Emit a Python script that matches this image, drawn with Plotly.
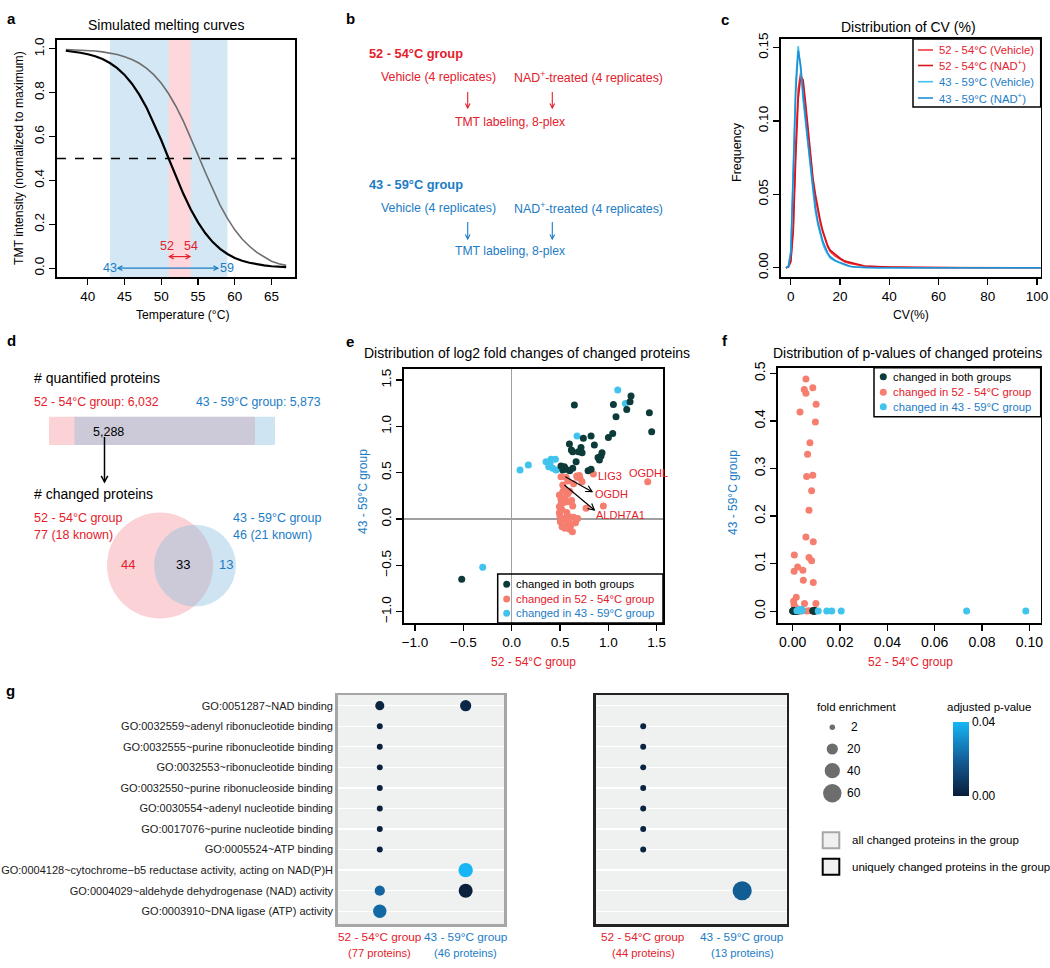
import math
import plotly.graph_objects as go

W, H = 1050, 968
def fx(p): return p / W
def fy(p): return 1 - p / H

FONT = "Liberation Sans, Arial, sans-serif"
RED = "#e4202b"
BLUE = "#1c7cc5"
DARK = "#0d3b3a"
SALMON = "#f67e6f"
CYAN = "#40c3ec"

# ---------------- data ----------------
# (a) simulated melting curves
temperature = list(range(37, 68))
curve_low_tm = [0.991, 0.987, 0.982, 0.975, 0.966, 0.953, 0.935, 0.912, 0.881, 0.841, 0.791,
                0.731, 0.661, 0.583, 0.500, 0.417, 0.339, 0.269, 0.209, 0.159, 0.119, 0.088,
                0.065, 0.047, 0.034, 0.025, 0.018, 0.013, 0.009, 0.007, 0.005]
curve_high_tm = [0.997, 0.996, 0.995, 0.993, 0.990, 0.986, 0.981, 0.974, 0.964, 0.951, 0.934,
                 0.911, 0.881, 0.843, 0.795, 0.737, 0.670, 0.596, 0.516, 0.436, 0.359, 0.288,
                 0.227, 0.175, 0.133, 0.100, 0.072, 0.050, 0.032, 0.020, 0.013]
band_wide = [43, 59]
band_narrow = [51, 54]
temp_ticks = [40, 45, 50, 55, 60, 65]
intensity_ticks = [0.0, 0.2, 0.4, 0.6, 0.8, 1.0]

# (c) CV distribution
cv_x = [-2, -1, 0, 1, 2, 3, 4, 5, 6, 7, 8, 9, 10, 11, 12, 13, 14, 15, 16, 18, 20, 22, 24, 26,
        28, 30, 35, 40, 50, 60, 70, 80, 90, 100, 105]
cv_red_vehicle = [0, 0.0005, 0.005, 0.03, 0.085, 0.122, 0.133, 0.125, 0.108, 0.09, 0.072, 0.058,
                  0.047, 0.038, 0.030, 0.024, 0.019, 0.014, 0.011, 0.008, 0.006, 0.004, 0.003,
                  0.0025, 0.0015, 0.001, 0.0006, 0.0004, 0.0002, 0.0001, 0, 0, 0, 0, 0]
cv_red_nad = [0, 0.0005, 0.004, 0.025, 0.075, 0.115, 0.13, 0.128, 0.112, 0.094, 0.076, 0.061,
              0.05, 0.04, 0.032, 0.025, 0.02, 0.015, 0.012, 0.009, 0.0065, 0.0045, 0.0035,
              0.0028, 0.002, 0.0012, 0.0007, 0.0004, 0.0002, 0.0001, 0, 0, 0, 0, 0]
cv_blue_vehicle = [0, 0.001, 0.012, 0.07, 0.128, 0.151, 0.135, 0.114, 0.097, 0.082, 0.068, 0.052,
                   0.038, 0.029, 0.022, 0.016, 0.012, 0.009, 0.0065, 0.0045, 0.003, 0.0018,
                   0.0008, 0.0004, 0.0002, 0.0001, 0, 0, 0, 0, 0, 0, 0, 0, 0]
cv_blue_nad = [0, 0.0008, 0.01, 0.062, 0.12, 0.148, 0.138, 0.118, 0.1, 0.085, 0.07, 0.055,
               0.041, 0.031, 0.024, 0.018, 0.014, 0.01, 0.0075, 0.005, 0.0035, 0.002, 0.001,
               0.0005, 0.0003, 0.0001, 0, 0, 0, 0, 0, 0, 0, 0, 0]
cv_names = ["52 - 54°C (Vehicle)", "52 - 54°C (NAD<sup>+</sup>)",
            "43 - 59°C (Vehicle)", "43 - 59°C (NAD<sup>+</sup>)"]
cv_ticks_x = [0, 20, 40, 60, 80, 100]
cv_ticks_y = [0.00, 0.05, 0.10, 0.15]

# (d) protein counts
n_quant_52 = 6032
n_quant_43 = 5873
n_quant_both = 5288
n_changed_52 = 77
n_changed_43 = 46
n_known_52 = 18
n_known_43 = 21
n_only_52 = 44
n_shared = 33
n_only_43 = 13

# (e) log2 fold changes
fc_both_x = [1.234, 1.224, 1.19, 0.648, 1.052, 1.079, 1.424, 1.448, 1.045, 1.0, 0.821, 0.855,
             0.741, 0.717, 0.597, 0.617, 0.631, 0.728, 0.666, 0.934, 0.924, 0.907, 0.821, 0.79,
             0.631, 0.510, 0.545, 0.562, 0.528, 0.893, 0.69, 0.60, -0.517]
fc_both_y = [1.327, 1.266, 1.183, 1.23, 1.237, 1.104, 1.147, 0.942, 0.924, 0.881, 0.896, 0.799,
             0.871, 0.773, 0.809, 0.745, 0.727, 0.716, 0.619, 0.716, 0.680, 0.637, 0.536, 0.522,
             0.547, 0.572, 0.565, 0.536, 0.529, 0.665, 0.727, 0.52, -0.651]
fc_52_x = [0.510, 0.562, 0.672, 0.707, 0.728, 0.845, 1.407, 0.528, 0.555, 0.493, 0.579, 0.510,
           0.534, 0.579, 0.493, 0.631, 0.769, 0.948, 0.493, 0.597, 0.545, 0.683, 0.503, 0.572,
           0.521, 0.614, 0.628, 0.55, 0.60, 0.66, 0.64, 0.52, 0.55, 0.60, 0.64, 0.68, 0.58, 0.50,
           0.53, 0.62, 0.57, 0.70, 0.51, 0.59]
fc_52_y = [0.457, 0.450, 0.464, 0.439, 0.403, 0.486, 0.403, 0.367, 0.313, 0.259, 0.270, 0.212,
           0.176, 0.187, 0.133, 0.140, 0.115, 0.140, 0.068, 0.025, 0.007, 0.007, -0.029, -0.047,
           -0.083, -0.065, -0.137, -0.10, -0.11, -0.04, 0.02, 0.10, 0.23, 0.30, 0.38, 0.45, 0.41,
           0.03, 0.30, 0.20, 0.07, 0.47, 0.16, -0.02]
fc_43_x = [1.097, 1.176, 0.676, 0.086, 0.172, 0.355, 0.407, 0.452, 0.383, 0.424, 0.459, 0.397, -0.30]
fc_43_y = [1.392, 1.248, 0.896, 0.529, 0.583, 0.619, 0.644, 0.644, 0.565, 0.547, 0.529, 0.60, -0.52]
fc_labels = ["LIG3", "OGDHL", "OGDH", "ALDH7A1"]
fc_label_x = [0.872, 1.19, 0.838, 0.855]
fc_label_y = [0.464, 0.493, 0.266, 0.043]
fc_arrow_from = [(0.555, 0.457), (0.545, 0.367)]
fc_arrow_to = [(0.831, 0.295), (0.855, 0.097)]
fc_ticks = [-1.0, -0.5, 0.0, 0.5, 1.0, 1.5]

# (f) p-values
p_52_x = [0.0056, 0.0049, 0.0056, 0.0085, 0.0099, 0.0031, 0.0096, 0.0073, 0.0063, 0.0059,
          0.0085, 0.0080, 0.0069, 0.0056, 0.0087, 0.0007, 0.0069, 0.0080, 0.0021, 0.0006,
          0.0043, 0.0045, 0.0087, 0.0015, 0.0004, 0.0006, 0.0050, 0.0098, 0.0010, 0.0030,
          0.0005, 0.0010, 0.0015, 0.0020, 0.0025, 0.0030, 0.0035, 0.0040, 0.0060, 0.0070,
          0.0085, 0.0092, 0.0020, 0.0012]
p_52_y = [0.488, 0.466, 0.458, 0.470, 0.435, 0.419, 0.398, 0.354, 0.330, 0.283, 0.286, 0.253,
          0.212, 0.156, 0.146, 0.118, 0.113, 0.106, 0.093, 0.084, 0.086, 0.065, 0.060, 0.029,
          0.021, 0.013, 0.016, 0.016, 0.008, 0.001, 0.001, 0.002, 0.000, 0.001, 0.003, 0.002,
          0.000, 0.001, 0.000, 0.001, 0.000, 0.002, 0.005, 0.004]
p_both_x = [0.0000, 0.0002, 0.0003, 0.0004, 0.0005, 0.0006, 0.0007, 0.0008, 0.0009, 0.0010,
            0.0011, 0.0012, 0.0013, 0.0014, 0.0015, 0.0016, 0.0018, 0.0020, 0.0022, 0.0024,
            0.0001, 0.0003, 0.0006, 0.0009, 0.0012, 0.0085, 0.0087, 0.0088, 0.0090, 0.0091,
            0.0092, 0.0094, 0.0095]
p_both_y = [0.000, 0.001, 0.000, 0.000, 0.001, 0.000, 0.000, 0.001, 0.000, 0.000, 0.001, 0.000,
            0.000, 0.001, 0.000, 0.000, 0.001, 0.000, 0.000, 0.001, 0.000, 0.000, 0.001, 0.000,
            0.000, 0.001, 0.000, 0.000, 0.001, 0.000, 0.000, 0.001, 0.000]
p_43_x = [0.0018, 0.0022, 0.0024, 0.0028, 0.0032, 0.0038, 0.0040, 0.0108, 0.0144, 0.0165,
          0.0205, 0.0735, 0.0985]
p_43_y = [0.001, 0.002, 0.001, 0.003, 0.002, 0.004, 0.001, 0.000, 0.000, 0.000, 0.000, 0.000, 0.000]
p_ticks_x = [0.00, 0.02, 0.04, 0.06, 0.08, 0.10]
p_ticks_y = [0.0, 0.1, 0.2, 0.3, 0.4, 0.5]

# (g) GO enrichment
go_terms = [
    "GO:0051287~NAD binding",
    "GO:0032559~adenyl ribonucleotide binding",
    "GO:0032555~purine ribonucleotide binding",
    "GO:0032553~ribonucleotide binding",
    "GO:0032550~purine ribonucleoside binding",
    "GO:0030554~adenyl nucleotide binding",
    "GO:0017076~purine nucleotide binding",
    "GO:0005524~ATP binding",
    "GO:0004128~cytochrome−b5 reductase activity, acting on NAD(P)H",
    "GO:0004029~aldehyde dehydrogenase (NAD) activity",
    "GO:0003910~DNA ligase (ATP) activity",
]
all_fe_52 = [12, 3, 3, 3, 3, 3, 3, 3, None, 16, 30]
all_p_52 = [0.002, 0.001, 0.001, 0.001, 0.001, 0.001, 0.001, 0.001, None, 0.021, 0.022]
all_fe_43 = [20, None, None, None, None, None, None, None, 35, 33, None]
all_p_43 = [0.003, None, None, None, None, None, None, None, 0.040, 0.001, None]
uniq_fe_52 = [None, 3, 3, 3, 3, 3, 3, 3, None, None, None]
uniq_p_52 = [None, 0.002, 0.002, 0.002, 0.002, 0.002, 0.002, 0.002, None, None, None]
uniq_fe_43 = [None, None, None, None, None, None, None, None, None, 65, None]
uniq_p_43 = [None, None, None, None, None, None, None, None, None, 0.019, None]
fe_legend = [2, 20, 40, 60]
p_range = [0.0, 0.04]
group_names = ["52 - 54°C group", "43 - 59°C group"]

# ---------------- layout geometry (pixels) ----------------
PANEL_A = dict(x=(57, 295), y=(40, 277), xr=(35.8, 68.2), yr=(-0.04, 1.04))
PANEL_C = dict(x=(781, 1040.7), y=(39, 277), xr=(-4, 101.5), yr=(-0.0063, 0.1559))
PANEL_E = dict(x=(404, 663), y=(369, 623), xr=(-1.114, 1.565), yr=(-1.122, 1.619))
PANEL_F = dict(x=(778, 1040.7), y=(367.7, 623), xr=(-0.0062, 0.1048), yr=(-0.025, 0.512))


def to_px(panel, xv, yv):
    (x0, x1), (y0, y1) = panel["x"], panel["y"]
    (r0, r1), (s0, s1) = panel["xr"], panel["yr"]
    return (x0 + (xv - r0) / (r1 - r0) * (x1 - x0), y1 - (yv - s0) / (s1 - s0) * (y1 - y0))


# ---------------- figure ----------------
fig = go.Figure()
shapes, ann = [], []


def T(x, y, s, size=12.5, color="black", xa="center", ya="middle", angle=0, bold=False):
    if bold:
        s = f"<b>{s}</b>"
    ann.append(dict(x=fx(x), y=fy(y), xref="paper", yref="paper", text=s, showarrow=False,
                    xanchor=xa, yanchor=ya, textangle=angle,
                    font=dict(family=FONT, size=size, color=color)))


def line_px(x0, y0, x1, y1, color, width=1.2, dash="solid"):
    shapes.append(dict(type="line", xref="paper", yref="paper", x0=fx(x0), x1=fx(x1),
                       y0=fy(y0), y1=fy(y1), line=dict(color=color, width=width, dash=dash)))


def head_px(xt, yt, xf, yf, color, width=1.2, hl=6.0, ang=28):
    d = math.hypot(xt - xf, yt - yf)
    ux, uy = (xt - xf) / d, (yt - yf) / d
    pts = []
    for s in (1, -1):
        a = math.radians(ang) * s
        rx = ux * math.cos(a) - uy * math.sin(a)
        ry = ux * math.sin(a) + uy * math.cos(a)
        pts.append((xt - hl * rx, yt - hl * ry))
    path = (f"M {fx(pts[0][0])},{fy(pts[0][1])} L {fx(xt)},{fy(yt)} "
            f"L {fx(pts[1][0])},{fy(pts[1][1])}")
    shapes.append(dict(type="path", xref="paper", yref="paper", path=path,
                       line=dict(color=color, width=width)))


def arrow_px(x0, y0, x1, y1, color, width=1.2, hl=6.0, both=False):
    line_px(x0, y0, x1, y1, color, width)
    head_px(x1, y1, x0, y0, color, width, hl)
    if both:
        head_px(x0, y0, x1, y1, color, width, hl)


def rect_px(x0, y0, x1, y1, fill="rgba(0,0,0,0)", line="black", lw=1.5, layer="above"):
    shapes.append(dict(type="rect", xref="paper", yref="paper", x0=fx(x0), x1=fx(x1),
                       y0=fy(y1), y1=fy(y0), fillcolor=fill, line=dict(color=line, width=lw),
                       layer=layer))


def circle_px(cx, cy, r, fill, line_w=0):
    shapes.append(dict(type="circle", xref="paper", yref="paper", x0=fx(cx - r), x1=fx(cx + r),
                       y0=fy(cy + r), y1=fy(cy - r), fillcolor=fill, line=dict(width=line_w)))


# ---- panel a ----
shapes.append(dict(type="rect", xref="x", yref="y domain", x0=band_wide[0], x1=band_wide[1], y0=0, y1=1,
                   fillcolor="#d3e7f5", line=dict(width=0), layer="below"))
shapes.append(dict(type="rect", xref="x", yref="y domain", x0=band_narrow[0], x1=band_narrow[1], y0=0, y1=1,
                   fillcolor="#fdd7db", line=dict(width=0), layer="below"))
shapes.append(dict(type="line", xref="x domain", yref="y", x0=0, x1=1, y0=0.5, y1=0.5,
                   line=dict(color="black", width=1.6, dash="dash")))
fig.add_trace(go.Scatter(x=temperature, y=curve_high_tm, mode="lines",
                         line=dict(color="#6e6e6e", width=1.6), xaxis="x", yaxis="y"))
fig.add_trace(go.Scatter(x=temperature, y=curve_low_tm, mode="lines",
                         line=dict(color="black", width=2.2), xaxis="x", yaxis="y"))
for (xs, xe, yv, col) in [(51.1, 53.9, 0.053, RED), (44.1, 57.7, 0.0, BLUE)]:
    p0 = to_px(PANEL_A, xs, yv)
    p1 = to_px(PANEL_A, xe, yv)
    arrow_px(p0[0], p0[1], p1[0], p1[1], col, width=1.2, hl=5, both=True)
for (xv, yv, s, col) in [(50.8, 0.10, "52", RED), (54.1, 0.10, "54", RED),
                         (43.0, 0.0, "43", BLUE), (58.9, 0.0, "59", BLUE)]:
    ann.append(dict(x=xv, y=yv, xref="x", yref="y", text=s, showarrow=False,
                    xanchor="center", yanchor="middle",
                    font=dict(family=FONT, size=12.5, color=col)))
T(165.5, 25, "Simulated melting curves", size=14)
T(183, 315, "Temperature (°C)", size=12.2)
T(19, 158, "TMT intensity (normalized to maximum)", size=12.2, angle=-90)

# ---- panel b ----
for (col, yh, yr, ya0, ya1, yt, head) in [(RED, 53.3, 77.3, 92, 108, 121.7, "52 - 54°C group"),
                                          (BLUE, 184, 208.3, 222, 239, 250.7, "43 - 59°C group")]:
    T(366.7, yh, head, size=12.8, color=col, xa="left", bold=True)
    T(438.8, yr, "Vehicle (4 replicates)", size=12.4, color=col)
    T(588.7, yr, "NAD<sup>+</sup>-treated (4 replicates)", size=12.4, color=col)
    arrow_px(467.7, ya0, 467.7, ya1, col, width=1.1, hl=5)
    arrow_px(552.3, ya0, 552.3, ya1, col, width=1.1, hl=5)
    T(510, yt, "TMT labeling, 8-plex", size=12.2, color=col)

# ---- panel c ----
cv_series = [cv_red_vehicle, cv_red_nad, cv_blue_vehicle, cv_blue_nad]
cv_colors = ["#f0393e", "#d8141c", "#3fc0ee", "#1f8ed5"]
for ys, c in zip(cv_series, cv_colors):
    fig.add_trace(go.Scatter(x=cv_x, y=ys, mode="lines", line=dict(color=c, width=1.6),
                             xaxis="x2", yaxis="y2"))
T(908, 27, "Distribution of CV (%)", size=14)
T(911, 315, "CV(%)", size=12.2)
T(737, 152, "Frequency", size=12.5, angle=-90)
rect_px(913, 39, 1040.7, 107)
for i, (nm, c) in enumerate(zip(cv_names, cv_colors)):
    yy = [50, 65.5, 81.7, 98][i]
    line_px(918, yy, 933, yy, c, width=1.6)
    T(937, yy, nm, size=11.3, color=RED if i < 2 else BLUE, xa="left")

# ---- panel d ----
T(31.7, 377.7, "# quantified proteins", size=14, xa="left")
T(32, 401.7, f"52 - 54°C group: {n_quant_52:,}", size=12.3, color=RED, xa="left")
T(323.3, 401.7, f"43 - 59°C group: {n_quant_43:,}", size=12.3, color=BLUE, xa="right")
bar_x0, bar_scale = 49, 206 / 6032
pink_end = bar_x0 + n_quant_52 * bar_scale
blue_start = pink_end - n_quant_both * bar_scale
blue_end = blue_start + n_quant_43 * bar_scale
rect_px(bar_x0, 416.7, pink_end, 445, fill="#fbd3d7", line="rgba(0,0,0,0)", lw=0)
rect_px(blue_start, 416.7, blue_end, 445, fill="rgba(129,184,221,0.38)", line="rgba(0,0,0,0)", lw=0)
T(108, 431.7, f"{n_quant_both:,}", size=12.5)
arrow_px(104.5, 437, 104.5, 482, "black", width=1.5, hl=7)
T(31.7, 494.3, "# changed proteins", size=14, xa="left")
T(32, 518.3, group_names[0], size=12.5, color=RED, xa="left")
T(32, 535, f"{n_changed_52} ({n_known_52} known)", size=12.5, color=RED, xa="left")
T(231, 518.3, group_names[1], size=12.5, color=BLUE, xa="left")
T(231, 535, f"{n_changed_43} ({n_known_43} known)", size=12.5, color=BLUE, xa="left")
r_pink = 53
r_blue = r_pink * math.sqrt(n_changed_43 / n_changed_52)
circle_px(160, 565.6, r_pink, "#fbd3d7")
circle_px(195, 565.6, r_blue, "rgba(129,184,221,0.38)")
T(127.7, 564.3, str(n_only_52), size=13, color=RED)
T(183.3, 564.3, str(n_shared), size=13, color="black")
T(225.7, 564.3, str(n_only_43), size=13, color=BLUE)

# ---- panel e ----
fig.add_trace(go.Scatter(x=fc_52_x, y=fc_52_y, mode="markers", marker=dict(color=SALMON, size=7),
                         xaxis="x3", yaxis="y3"))
fig.add_trace(go.Scatter(x=fc_43_x, y=fc_43_y, mode="markers", marker=dict(color=CYAN, size=7),
                         xaxis="x3", yaxis="y3"))
fig.add_trace(go.Scatter(x=fc_both_x, y=fc_both_y, mode="markers", marker=dict(color=DARK, size=7),
                         xaxis="x3", yaxis="y3"))
for (a0, a1) in zip(fc_arrow_from, fc_arrow_to):
    p0 = to_px(PANEL_E, *a0)
    p1 = to_px(PANEL_E, *a1)
    arrow_px(p0[0], p0[1], p1[0], p1[1], "black", width=1.2, hl=7)
for s, xv, yv in zip(fc_labels, fc_label_x, fc_label_y):
    ann.append(dict(x=xv, y=yv, xref="x3", yref="y3", text=s, showarrow=False, xanchor="left",
                    yanchor="middle", font=dict(family=FONT, size=11, color=RED)))
T(527, 353, "Distribution of log2 fold changes of changed proteins", size=14)
T(533, 662, group_names[0], size=12, color=RED)
T(363, 492, group_names[1], size=12, color=BLUE, angle=-90)
rect_px(497.7, 574, 663, 623)
leg_txt = ["changed in both groups", "changed in 52 - 54°C group", "changed in 43 - 59°C group"]
leg_col = [DARK, SALMON, CYAN]
leg_tcol = ["black", RED, BLUE]
for i in range(3):
    yy = [584.3, 599, 613.3][i]
    circle_px(506.7, yy, 3.5, leg_col[i])
    T(514, yy, leg_txt[i], size=11.3, color=leg_tcol[i], xa="left")

# ---- panel f ----
fig.add_trace(go.Scatter(x=p_52_x, y=p_52_y, mode="markers", marker=dict(color=SALMON, size=7),
                         xaxis="x4", yaxis="y4"))
fig.add_trace(go.Scatter(x=p_both_x, y=p_both_y, mode="markers", marker=dict(color=DARK, size=7),
                         xaxis="x4", yaxis="y4"))
fig.add_trace(go.Scatter(x=p_43_x, y=p_43_y, mode="markers", marker=dict(color=CYAN, size=7),
                         xaxis="x4", yaxis="y4"))
T(907, 353, "Distribution of p-values of changed proteins", size=14)
T(910, 662, group_names[0], size=12, color=RED)
T(733, 493, group_names[1], size=12, color=BLUE, angle=-90)
rect_px(874, 367.7, 1040.7, 416.7)
for i in range(3):
    yy = [376.7, 392.3, 406.7][i]
    circle_px(883.3, yy, 3.5, leg_col[i])
    T(890.7, yy, leg_txt[i], size=11.3, color=leg_tcol[i], xa="left")

# ---- panel g ----
def dia(fe):
    return math.sqrt(19.3 + 5.34 * fe)

rows = list(range(1, len(go_terms) + 1))
for (fe_list, p_list, col, xa, ya) in [(all_fe_52, all_p_52, 1, "x5", "y5"),
                                       (all_fe_43, all_p_43, 2, "x5", "y5"),
                                       (uniq_fe_52, uniq_p_52, 1, "x6", "y6"),
                                       (uniq_fe_43, uniq_p_43, 2, "x6", "y6")]:
    ys = [r for r, f in zip(rows, fe_list) if f is not None]
    ss = [dia(f) for f in fe_list if f is not None]
    cs = [p for p in p_list if p is not None]
    fig.add_trace(go.Scatter(x=[col] * len(ys), y=ys, mode="markers", xaxis=xa, yaxis=ya,
                             marker=dict(size=ss, color=cs, coloraxis="coloraxis", line=dict(width=0),
                                         opacity=1)))
for xa, ya in [("x5", "y5"), ("x6", "y6")]:
    shapes.append(dict(type="rect", xref=f"{xa} domain", yref=f"{ya} domain", x0=0, x1=1, y0=0, y1=1,
                       fillcolor="#eff1f1", line=dict(width=0), layer="below"))
for xa, counts in [("x5", [n_changed_52, n_changed_43]), ("x6", [n_only_52, n_only_43])]:
    for j in range(2):
        col = RED if j == 0 else BLUE
        ann.append(dict(x=j + 1, y=fy(936.5), xref=xa, yref="paper", text=group_names[j],
                        showarrow=False, xanchor="center", yanchor="middle",
                        font=dict(family=FONT, size=11.8, color=col)))
        ann.append(dict(x=j + 1, y=fy(952.5), xref=xa, yref="paper", text=f"({counts[j]} proteins)",
                        showarrow=False, xanchor="center", yanchor="middle",
                        font=dict(family=FONT, size=11.2, color=col)))
T(856.7, 706.7, "fold enrichment", size=11.5)
for fe, yy in zip(fe_legend, [727.3, 749, 770.7, 793.3]):
    circle_px(832.3, yy, dia(fe) / 2, "#6d6d6d")
    T(854.3, yy, str(fe), size=12)
T(989.3, 706.7, "adjusted p-value", size=11.5)
rect_px(822.7, 832.3, 839.3, 848.3, fill="#eff1f1", line="#a6a6a6", lw=2)
rect_px(822.7, 858.7, 839.3, 874.7, fill="#eff1f1", line="black", lw=2)
T(850, 840.3, "all changed proteins in the group", size=11.5, xa="left")
T(850, 866.7, "uniquely changed proteins in the group", size=11.5, xa="left")

# panel letters
for s, x, y in [("a", 11.7, 18.3), ("b", 350.7, 18.3), ("c", 725, 19.3), ("d", 11.7, 340),
                ("e", 350, 341), ("f", 725, 340), ("g", 10, 690.7)]:
    T(x, y, s, size=15, bold=True)

# ---------------- axes ----------------
def frame(panel, size=13.5, **kw):
    d = dict(showline=True, linecolor="black", linewidth=1.6, mirror=True,
             ticks="outside", ticklen=6, tickwidth=1.2, tickcolor="black", showgrid=False,
             zeroline=False, automargin=False, tickfont=dict(family=FONT, size=size, color="black"))
    d.update(kw)
    return d


def xdom(panel):
    return [fx(panel["x"][0]), fx(panel["x"][1])]


def ydom(panel):
    return [fy(panel["y"][1]), fy(panel["y"][0])]


g_box = dict(showgrid=False, zeroline=False, ticks="", showline=True, mirror=True, linewidth=2.5,
             automargin=False)

fig.update_layout(
    width=W, height=H, margin=dict(l=0, r=0, t=0, b=0, autoexpand=False), showlegend=False,
    paper_bgcolor="white", plot_bgcolor="white", hovermode=False,
    xaxis=frame(PANEL_A, domain=xdom(PANEL_A), range=list(PANEL_A["xr"]), tickvals=temp_ticks,
                anchor="y"),
    yaxis=frame(PANEL_A, domain=ydom(PANEL_A), range=list(PANEL_A["yr"]), tickvals=intensity_ticks,
                tickformat=".1f", tickangle=-90, anchor="x"),
    xaxis2=frame(PANEL_C, domain=xdom(PANEL_C), range=list(PANEL_C["xr"]), tickvals=cv_ticks_x,
                 anchor="y2"),
    yaxis2=frame(PANEL_C, domain=ydom(PANEL_C), range=list(PANEL_C["yr"]), tickvals=cv_ticks_y,
                 tickformat=".2f", tickangle=-90, anchor="x2"),
    xaxis3=frame(PANEL_E, domain=xdom(PANEL_E), range=list(PANEL_E["xr"]), tickvals=fc_ticks,
                 tickformat=".1f", anchor="y3", zeroline=True, zerolinecolor="#a0a0a0",
                 zerolinewidth=1.5),
    yaxis3=frame(PANEL_E, domain=ydom(PANEL_E), range=list(PANEL_E["yr"]), tickvals=fc_ticks,
                 tickformat=".1f", tickangle=-90, anchor="x3", zeroline=True,
                 zerolinecolor="#a0a0a0", zerolinewidth=1.5),
    xaxis4=frame(PANEL_F, size=14, domain=xdom(PANEL_F), range=list(PANEL_F["xr"]),
                 tickvals=p_ticks_x, tickformat=".2f", anchor="y4"),
    yaxis4=frame(PANEL_F, size=14, domain=ydom(PANEL_F), range=list(PANEL_F["yr"]),
                 tickvals=p_ticks_y, tickformat=".1f", tickangle=-90, anchor="x4"),
    xaxis5=dict(domain=[fx(337.7), fx(504.3)], range=[0.51, 2.45], showticklabels=False,
                anchor="y5", linecolor="#a6a6a6", **g_box),
    yaxis5=dict(domain=[fy(924), fy(695)], range=[11.62, 0.48], tickvals=rows, ticktext=go_terms,
                anchor="x5", linecolor="#a6a6a6", showgrid=True, gridcolor="white", gridwidth=1.3,
                zeroline=False, ticks="", showline=True, mirror=True, linewidth=2.5, automargin=False,
                tickfont=dict(family=FONT, size=11, color="#1a1a1a")),
    xaxis6=dict(domain=[fx(595.7), fx(786.7)], range=[0.52, 2.45], showticklabels=False,
                anchor="y6", linecolor="#222222", **g_box),
    yaxis6=dict(domain=[fy(924), fy(695)], range=[11.62, 0.48], tickvals=rows, showticklabels=False,
                anchor="x6", linecolor="#222222", showgrid=True, gridcolor="white", gridwidth=1.3,
                zeroline=False, ticks="", showline=True, mirror=True, linewidth=2.5, automargin=False),
    coloraxis=dict(cmin=p_range[0], cmax=p_range[1],
                   colorscale=[[0, "#0a1d38"], [0.5, "#13609a"], [1, "#16b6f6"]],
                   colorbar=dict(x=fx(953.3), xanchor="left", y=fy(758.85), yanchor="middle",
                                 len=74.3, lenmode="pixels", thickness=16, thicknessmode="pixels",
                                 outlinewidth=0, tickvals=[0.0, 0.04], ticktext=["0.00", "0.04"],
                                 ticks="inside", tickcolor="white", ticklen=4, xpad=0, ypad=0,
                                 tickfont=dict(family=FONT, size=12, color="black"))),
    shapes=shapes, annotations=ann,
    font=dict(family=FONT, size=12.5, color="black"),
)

fig.write_html("out.html", config={"displayModeBar": False, "staticPlot": True})

# remove the browser's default page margin so the figure sits at the window origin
with open("out.html", "r", encoding="utf-8") as fh:
    page = fh.read()
page = page.replace("<head>", "<head><style>html,body{margin:0;padding:0;overflow:hidden;}</style>", 1)
with open("out.html", "w", encoding="utf-8") as fh:
    fh.write(page)
